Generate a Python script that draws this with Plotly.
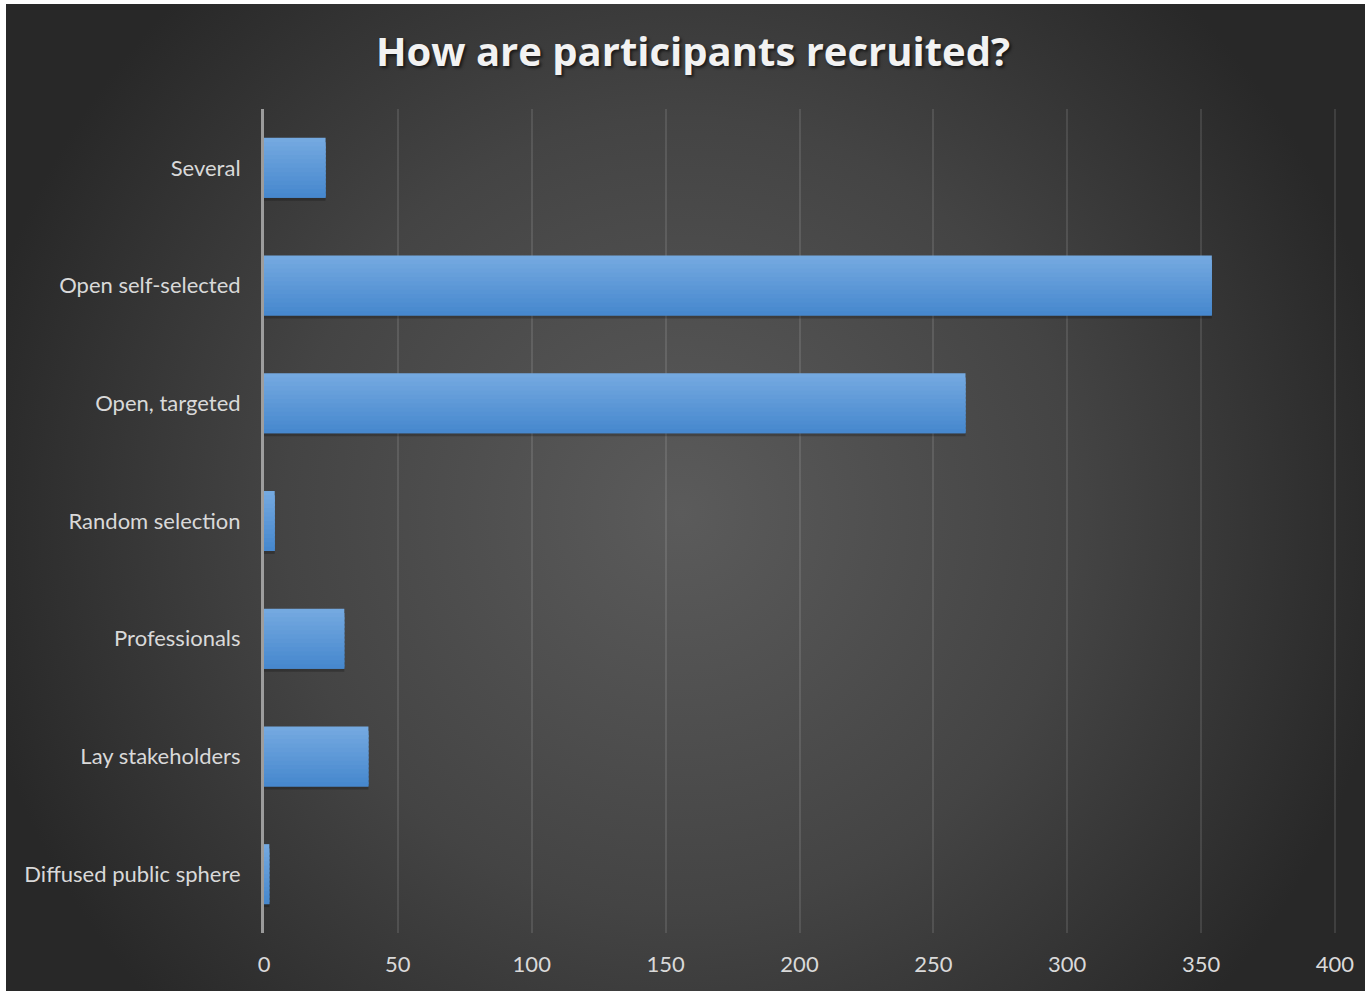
import base64
import plotly.graph_objects as go

# Survey answers: how participants are recruited
categories = [
    "Several",
    "Open self-selected",
    "Open, targeted",
    "Random selection",
    "Professionals",
    "Lay stakeholders",
    "Diffused public sphere",
]
counts = [23, 354, 262, 4, 30, 39, 2]
x_ticks = [0, 50, 100, 150, 200, 250, 300, 350, 400]

W, H = 1365, 991
M_L, M_R, M_T, M_B = 264, 28, 109, 58
PW, PH = W - M_L - M_R, H - M_T - M_B

# Dark radial background as an SVG image behind the whole figure
BG_X0, BG_Y0 = 6, 4
bg_w, bg_h = W - BG_X0, H - BG_Y0
svg = f"""<svg xmlns='http://www.w3.org/2000/svg' width='{bg_w}' height='{bg_h}' viewBox='0 0 {bg_w} {bg_h}' preserveAspectRatio='none'>
<defs><radialGradient id='g' gradientUnits='userSpaceOnUse' cx='675' cy='510' r='720'>
<stop offset='0' stop-color='#5b5b5b'/><stop offset='0.55' stop-color='#444444'/><stop offset='1' stop-color='#282828'/>
</radialGradient></defs><rect width='{bg_w}' height='{bg_h}' fill='url(#g)'/></svg>"""
bg_uri = "data:image/svg+xml;base64," + base64.b64encode(svg.encode()).decode()

fig = go.Figure()

BAR_W = 0.51
N_BANDS = 14
top_rgb = (0x74, 0xA9, 0xE0)
bot_rgb = (0x47, 0x88, 0xCE)

# Soft shadow under each bar
fig.add_trace(go.Bar(
    y=categories, x=counts, orientation="h",
    width=BAR_W, offset=-BAR_W / 2 + 0.025,
    marker=dict(color="rgba(0,0,0,0.22)", line=dict(width=0)),
    hoverinfo="skip", showlegend=False,
))

# Bars rendered as thin horizontal bands for a vertical gradient fill
band = BAR_W / N_BANDS
for i in range(N_BANDS):
    t = i / (N_BANDS - 1)
    r, g, b = (round(top_rgb[k] + (bot_rgb[k] - top_rgb[k]) * t) for k in range(3))
    # y axis is reversed, so a larger offset sits lower on screen;
    # each band reaches into the next one so no seams show
    fig.add_trace(go.Bar(
        y=categories, x=counts, orientation="h",
        width=min(2.5 * band, BAR_W - i * band), offset=-BAR_W / 2 + i * band,
        marker=dict(color=f"rgb({r},{g},{b})", line=dict(width=0)),
        hovertemplate="%{y}: %{x}<extra></extra>", showlegend=False,
    ))

fig.update_layout(
    width=W, height=H,
    margin=dict(l=M_L, r=M_R, t=M_T, b=M_B, pad=0),
    paper_bgcolor="white",
    plot_bgcolor="rgba(0,0,0,0)",
    barmode="overlay",
    title=dict(
        text="How are participants recruited?",
        x=(693 - M_L) / PW, xref="paper", xanchor="center",
        y=1 - 52 / H, yanchor="middle",
        font=dict(family="Open Sans", size=40, color="#f2f2f2", weight="bold",
                  shadow="2px 2px 3px rgba(0,0,0,0.6)"),
    ),
    xaxis=dict(
        range=[0, 400.75], tickvals=x_ticks, ticktext=[str(v) for v in x_ticks],
        showgrid=True, gridcolor="rgba(255,255,255,0.11)", gridwidth=2,
        zeroline=False, showline=False, ticks="",
        tickfont=dict(family="Lato", size=22, color="#d9d9d9"),
        ticklabelstandoff=16, fixedrange=True,
    ),
    yaxis=dict(
        categoryorder="array", categoryarray=categories, autorange="reversed",
        showgrid=False, zeroline=False, showline=True,
        linecolor="rgba(190,190,190,0.75)", linewidth=3, ticks="",
        tickfont=dict(family="Lato", size=22, color="#d9d9d9"),
        ticklabelstandoff=16, fixedrange=True, layer="above traces",
    ),
    images=[dict(
        source=bg_uri, xref="paper", yref="paper",
        x=(BG_X0 - M_L) / PW, y=(H - M_B - BG_Y0) / PH,
        sizex=bg_w / PW, sizey=bg_h / PH,
        xanchor="left", yanchor="top", sizing="stretch", layer="below",
    )],
)

fig.write_html("out.html")
